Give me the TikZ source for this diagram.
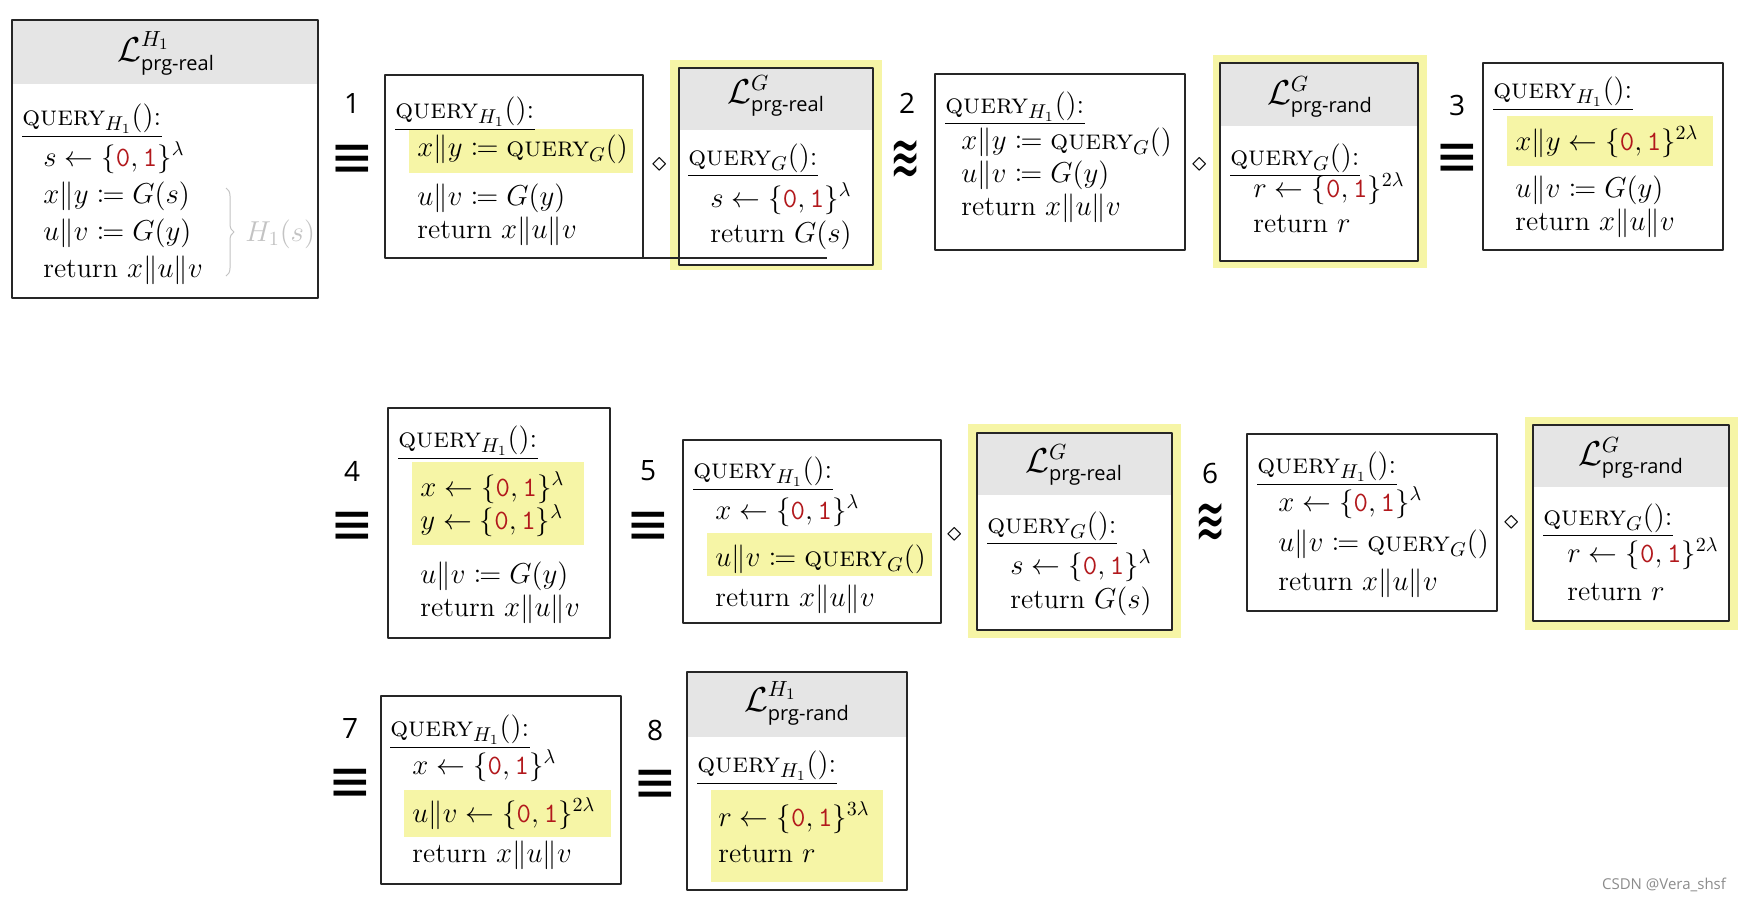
\documentclass[tikz,border=0pt]{standalone}
\usepackage{fontspec}
\setsansfont{Open Sans}
\newfontfamily\relfont{DejaVu Sans}
\usepackage{mathtools}
\usepackage{graphicx}
\usetikzlibrary{decorations.pathreplacing}

\definecolor{hlyellow}{RGB}{246,245,166}
\definecolor{hdrgray}{RGB}{229,229,229}
\definecolor{bitred}{RGB}{178,24,28}
\definecolor{faint}{RGB}{195,195,195}

\newcommand{\codesize}{\fontsize{14}{17}\selectfont}
\newcommand{\bits}{\{\texttt{\textcolor{bitred}{0}},\texttt{\textcolor{bitred}{1}}\}}
\newcommand{\qry}[1]{\textsc{query}_{#1}()}
\newcommand{\lib}[2]{\fontsize{17}{17}\selectfont$\mathcal{L}^{\hbox{\fontsize{11}{11}\selectfont$#1$}}_{\hbox{\fontsize{10}{10}\selectfont\sffamily #2}}$}
\newcommand{\eqv}{\scalebox{1.3}[1.5]{≡}}
\newcommand{\indist}{\scalebox{1}[1.9]{≋}}

\tikzset{
  pkg/.style={draw=black!85, line width=0.7pt},
  hdr/.style={fill=hdrgray},
  hl/.style={fill=hlyellow},
  ul/.style={draw=black, line width=0.7pt},
  codeln/.style={anchor=base west, inner sep=0pt, font=\codesize},
  ttl/.style={inner sep=0pt},
  num/.style={inner sep=0pt, font=\fontsize{14}{14}\selectfont\sffamily},
  rel/.style={inner sep=0pt, font=\fontsize{20}{20}\selectfont\relfont},
  approx/.style={inner sep=0pt, font=\fontsize{18}{18}\selectfont\relfont},
  comp/.style={inner sep=0pt, font=\codesize},
  brc/.style={draw=faint, line width=0.5pt, decorate, decoration={brace, amplitude=4pt}},
}

\begin{document}
\begin{tikzpicture}[x=0.5pt, y=-0.5pt, line join=round]

    \useasboundingbox (0,0) rectangle (1738,901);
    \fill[white] (0,0) rectangle (1738,901);

    % ── Row 1 ─────────────────────────────────────────────────────────────────
    % L^H1 prg-real
    \fill[hdr] (12,20) rectangle (318,84);
    \draw[pkg] (12,20) rectangle (318,298);
    \node[ttl] (t1) at (166,53) {\lib{H_1}{prg-real}};
    \node[codeln] (q1) at (22,125) {$\qry{H_1}$:};
    \draw[ul] ([yshift=-1.5pt]q1.south west) -- ([yshift=-1.5pt]q1.south east);
    \node[codeln] (a1) at (43,166) {$s \gets \bits^{\lambda}$};
    \node[codeln] (b1) at (43,203) {$x\|y \coloneqq G(s)$};
    \node[codeln] (c1) at (43,240) {$u\|v \coloneqq G(y)$};
    \node[codeln] (d1) at (43,277) {return $x\|u\|v$};
    \draw[brc] (226,188) -- (226,276);
    \node[codeln, text=faint] (h1) at (245,241) {$H_1(s)$};

    \node[num] (n1) at (352,103) {1};
    \node[rel] (e1) at (352,161) {\eqv};

    % query box, x||y := QUERY_G()
    \draw[pkg] (385,75) rectangle (643,258);
    \fill[hl] (409,129) rectangle (633,173);
    \node[codeln] (q2) at (395,118) {$\qry{H_1}$:};
    \draw[ul] ([yshift=-1.5pt]q2.south west) -- ([yshift=-1.5pt]q2.south east);
    \node[codeln] (a2) at (417,156) {$x\|y \coloneqq \qry{G}$};
    \node[codeln] (b2) at (417,205) {$u\|v \coloneqq G(y)$};
    \node[codeln] (c2) at (417,238) {return $x\|u\|v$};
    \node[comp] (k1) at (660,165) {$\diamond$};

    % L^G prg-real (highlighted)
    \fill[hl] (670,60) rectangle (882,270);
    \fill[white] (679,68) rectangle (873,265);
    \fill[hdr] (679,68) rectangle (873,130);
    \draw[pkg] (679,68) rectangle (873,265);
    \draw[pkg] (643,258) -- (827,258);
    \node[ttl] (t2) at (776,96) {\lib{G}{prg-real}};
    \node[codeln] (q3) at (688,165) {$\qry{G}$:};
    \draw[ul] ([yshift=-1.5pt]q3.south west) -- ([yshift=-1.5pt]q3.south east);
    \node[codeln] (a3) at (710,207) {$s \gets \bits^{\lambda}$};
    \node[codeln] (b3) at (710,242) {return $G(s)$};

    \node[num] (n2) at (907,103) {2};
    \node[approx] (e2) at (906,161) {\indist};

    % query box, unchanged
    \draw[pkg] (935,74) rectangle (1185,250);
    \node[codeln] (q4) at (945,113) {$\qry{H_1}$:};
    \draw[ul] ([yshift=-1pt]q4.south west) -- ([yshift=-1pt]q4.south east);
    \node[codeln] (a4) at (961,149) {$x\|y \coloneqq \qry{G}$};
    \node[codeln] (b4) at (961,182) {$u\|v \coloneqq G(y)$};
    \node[codeln] (c4) at (961,215) {return $x\|u\|v$};
    \node[comp] (k2) at (1200,165) {$\diamond$};

    % L^G prg-rand (highlighted)
    \fill[hl] (1213,55) rectangle (1427,268);
    \fill[white] (1220,63) rectangle (1418,261);
    \fill[hdr] (1220,63) rectangle (1418,126);
    \draw[pkg] (1220,63) rectangle (1418,261);
    \node[ttl] (t3) at (1320,97) {\lib{G}{prg-rand}};
    \node[codeln] (q5) at (1230,165) {$\qry{G}$:};
    \draw[ul] ([yshift=-1.5pt]q5.south west) -- ([yshift=-1.5pt]q5.south east);
    \node[codeln] (a5) at (1253,197) {$r \gets \bits^{2\lambda}$};
    \node[codeln] (b5) at (1253,232) {return $r$};

    \node[num] (n3) at (1457,105) {3};
    \node[rel] (e3) at (1457,160) {\eqv};

    % x||y sampled directly
    \draw[pkg] (1483,63) rectangle (1723,250);
    \fill[hl] (1507,116) rectangle (1713,166);
    \node[codeln] (q6) at (1493,98) {$\qry{H_1}$:};
    \draw[ul] ([yshift=-1.5pt]q6.south west) -- ([yshift=-1.5pt]q6.south east);
    \node[codeln] (a6) at (1515,150) {$x\|y \gets \bits^{2\lambda}$};
    \node[codeln] (b6) at (1515,197) {$u\|v \coloneqq G(y)$};
    \node[codeln] (c6) at (1515,230) {return $x\|u\|v$};

    % ── Row 2 ─────────────────────────────────────────────────────────────────
    \node[num] (n4) at (352,471) {4};
    \node[rel] (e4) at (352,528) {\eqv};

    % x, y sampled separately
    \draw[pkg] (388,408) rectangle (610,638);
    \fill[hl] (412,462) rectangle (584,545);
    \node[codeln] (q7) at (398,447) {$\qry{H_1}$:};
    \draw[ul] ([yshift=-1.5pt]q7.south west) -- ([yshift=-1.5pt]q7.south east);
    \node[codeln] (a7) at (420,496) {$x \gets \bits^{\lambda}$};
    \node[codeln] (b7) at (420,529) {$y \gets \bits^{\lambda}$};
    \node[codeln] (c7) at (420,583) {$u\|v \coloneqq G(y)$};
    \node[codeln] (d7) at (420,616) {return $x\|u\|v$};

    \node[num] (n5) at (648,471) {5};
    \node[rel] (e5) at (648,528) {\eqv};

    % u||v := QUERY_G()
    \draw[pkg] (683,440) rectangle (941,623);
    \fill[hl] (707,533) rectangle (932,576);
    \node[codeln] (q8) at (693,478) {$\qry{H_1}$:};
    \draw[ul] ([yshift=-1.5pt]q8.south west) -- ([yshift=-1.5pt]q8.south east);
    \node[codeln] (a8) at (715,519) {$x \gets \bits^{\lambda}$};
    \node[codeln] (b8) at (715,566) {$u\|v \coloneqq \qry{G}$};
    \node[codeln] (c8) at (715,606) {return $x\|u\|v$};
    \node[comp] (k3) at (955,535) {$\diamond$};

    % L^G prg-real (highlighted)
    \fill[hl] (968,424) rectangle (1181,638);
    \fill[white] (977,433) rectangle (1172,630);
    \fill[hdr] (977,433) rectangle (1172,495);
    \draw[pkg] (977,433) rectangle (1172,630);
    \node[ttl] (t4) at (1074,465) {\lib{G}{prg-real}};
    \node[codeln] (q9) at (987,533) {$\qry{G}$:};
    \draw[ul] ([yshift=-1.5pt]q9.south west) -- ([yshift=-1.5pt]q9.south east);
    \node[codeln] (a9) at (1010,574) {$s \gets \bits^{\lambda}$};
    \node[codeln] (b9) at (1010,608) {return $G(s)$};

    \node[num] (n6) at (1210,473) {6};
    \node[approx] (e6) at (1211,524) {\indist};

    % u||v := QUERY_G(), unchanged
    \draw[pkg] (1247,434) rectangle (1497,611);
    \node[codeln] (q10) at (1257,473) {$\qry{H_1}$:};
    \draw[ul] ([yshift=-1.5pt]q10.south west) -- ([yshift=-1.5pt]q10.south east);
    \node[codeln] (a10) at (1278,511) {$x \gets \bits^{\lambda}$};
    \node[codeln] (b10) at (1278,551) {$u\|v \coloneqq \qry{G}$};
    \node[codeln] (c10) at (1278,590) {return $x\|u\|v$};
    \node[comp] (k4) at (1512,523) {$\diamond$};

    % L^G prg-rand (highlighted)
    \fill[hl] (1525,417) rectangle (1738,630);
    \fill[white] (1533,425) rectangle (1729,621);
    \fill[hdr] (1533,425) rectangle (1729,487);
    \draw[pkg] (1533,425) rectangle (1729,621);
    \node[ttl] (t5) at (1631,458) {\lib{G}{prg-rand}};
    \node[codeln] (q11) at (1543,525) {$\qry{G}$:};
    \draw[ul] ([yshift=-1.5pt]q11.south west) -- ([yshift=-1.5pt]q11.south east);
    \node[codeln] (a11) at (1567,562) {$r \gets \bits^{2\lambda}$};
    \node[codeln] (b11) at (1567,600) {return $r$};

    % ── Row 3 ─────────────────────────────────────────────────────────────────
    \node[num] (n7) at (350,728) {7};
    \node[rel] (e7) at (350,785) {\eqv};

    % u||v sampled directly
    \draw[pkg] (381,696) rectangle (621,884);
    \fill[hl] (404,790) rectangle (611,837);
    \node[codeln] (q12) at (390,736) {$\qry{H_1}$:};
    \draw[ul] ([yshift=-1.5pt]q12.south west) -- ([yshift=-1.5pt]q12.south east);
    \node[codeln] (a12) at (412,774) {$x \gets \bits^{\lambda}$};
    \node[codeln] (b12) at (412,822) {$u\|v \gets \bits^{2\lambda}$};
    \node[codeln] (c12) at (412,862) {return $x\|u\|v$};

    \node[num] (n8) at (655,730) {8};
    \node[rel] (e8) at (655,786) {\eqv};

    % L^H1 prg-rand
    \fill[hdr] (687,672) rectangle (907,737);
    \draw[pkg] (687,672) rectangle (907,890);
    \fill[hl] (711,790) rectangle (883,882);
    \node[ttl] (t6) at (797,703) {\lib{H_1}{prg-rand}};
    \node[codeln] (q13) at (697,772) {$\qry{H_1}$:};
    \draw[ul] ([yshift=-1.5pt]q13.south west) -- ([yshift=-1.5pt]q13.south east);
    \node[codeln] (a13) at (718,826) {$r \gets \bits^{3\lambda}$};
    \node[codeln] (b13) at (718,862) {return $r$};

    % watermark
    \node[inner sep=0pt, text=black!45, font=\fontsize{7.5}{7.5}\selectfont\sffamily] (wm) at (1664,885) {CSDN @Vera\_shsf};

\end{tikzpicture}
\end{document}
